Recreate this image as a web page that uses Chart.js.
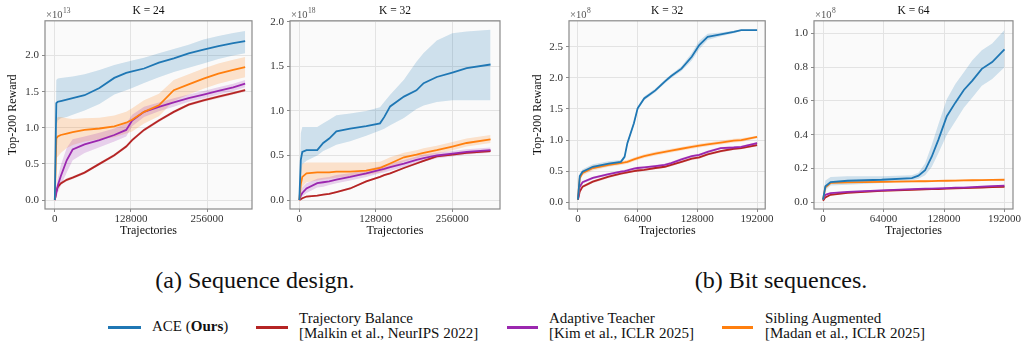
<!DOCTYPE html>
<html>
<head>
<meta charset="utf-8">
<script src="https://cdn.jsdelivr.net/npm/chart.js@4.4.1/dist/chart.umd.min.js"></script>
<style>
  html, body { margin:0; padding:0; background:#fff; }
  body { width:1025px; height:346px; position:relative; overflow:hidden; font-family:"Liberation Serif", "Times New Roman", Times, Tinos, "Nimbus Roman", "DejaVu Serif", "Noto Serif", serif; }
  .pane { position:absolute; top:0; height:240px; }
  .cap { position:absolute; font-size:24px; line-height:24px; color:#111; white-space:nowrap; transform:translateX(-50%); }
  .lgline { position:absolute; height:2.5px; }
  .lgtxt { position:absolute; font-size:15px; line-height:15px; color:#111; white-space:nowrap; }
</style>
</head>
<body>
<div class="pane" style="left:0;width:260px"><canvas id="c1" width="260" height="240"></canvas></div>
<div class="pane" style="left:255px;width:255px"><canvas id="c2" width="255" height="240"></canvas></div>
<div class="pane" style="left:525px;width:250px"><canvas id="c3" width="250" height="240"></canvas></div>
<div class="pane" style="left:775px;width:250px"><canvas id="c4" width="250" height="240"></canvas></div>

<div class="cap" style="left:255px;top:268px">(a) Sequence design.</div>
<div class="cap" style="left:781px;top:268px">(b) Bit sequences.</div>

<div class="lgline" style="left:108px;top:326px;width:33px;background:#1f77b4"></div>
<div class="lgtxt" style="left:152px;top:319px">ACE (<b>Ours</b>)</div>
<div class="lgline" style="left:256px;top:326px;width:32px;background:#b52424"></div>
<div class="lgtxt" style="left:299px;top:311px">Trajectory Balance<br>[Malkin et al., NeurIPS 2022]</div>
<div class="lgline" style="left:507px;top:326px;width:31px;background:#9b27af"></div>
<div class="lgtxt" style="left:549px;top:311px">Adaptive Teacher<br>[Kim et al., ICLR 2025]</div>
<div class="lgline" style="left:722px;top:326px;width:31px;background:#ff7f0e"></div>
<div class="lgtxt" style="left:765px;top:311px">Sibling Augmented<br>[Madan et al., ICLR 2025]</div>

<script>
// ---------- Data ----------
const seriesNames = ['ACE (Ours)', 'Trajectory Balance', 'Adaptive Teacher', 'Sibling Augmented'];

// Panel (a) K = 24, values x1e13
const seq24X = [0, 2500, 5000, 10000, 20000, 30000, 50000, 75000, 100000, 120000, 130000, 150000, 175000, 200000, 225000, 250000, 275000, 300000, 320000];
const seq24Ace   = [0, 1.34, 1.36, 1.37, 1.39, 1.41, 1.45, 1.55, 1.69, 1.76, 1.78, 1.82, 1.90, 1.96, 2.03, 2.08, 2.13, 2.17, 2.20];
const seq24AceHi = [0, 1.66, 1.68, 1.69, 1.70, 1.71, 1.74, 1.80, 1.87, 1.91, 1.93, 1.97, 2.03, 2.09, 2.15, 2.22, 2.27, 2.31, 2.34];
const seq24AceLo = [0, 1.02, 1.10, 1.13, 1.15, 1.18, 1.24, 1.33, 1.46, 1.52, 1.55, 1.62, 1.70, 1.77, 1.83, 1.89, 1.95, 2.00, 2.03];
const seq24Sa    = [0, 0.85, 0.88, 0.90, 0.92, 0.94, 0.97, 0.99, 1.02, 1.07, 1.11, 1.22, 1.31, 1.52, 1.60, 1.68, 1.75, 1.80, 1.84];
const seq24SaHi  = [0, 1.12, 1.15, 1.15, 1.13, 1.12, 1.13, 1.14, 1.17, 1.22, 1.27, 1.38, 1.47, 1.66, 1.74, 1.82, 1.89, 1.94, 1.98];
const seq24SaLo  = [0, 0.58, 0.60, 0.65, 0.72, 0.76, 0.81, 0.84, 0.87, 0.92, 0.95, 1.06, 1.16, 1.37, 1.46, 1.54, 1.61, 1.66, 1.70];
const seq24At    = [0, 0.10, 0.20, 0.33, 0.55, 0.70, 0.77, 0.83, 0.90, 0.97, 1.10, 1.22, 1.29, 1.35, 1.41, 1.46, 1.51, 1.56, 1.61];
const seq24AtHi  = [0, 0.16, 0.30, 0.48, 0.72, 0.84, 0.88, 0.93, 0.99, 1.06, 1.18, 1.29, 1.35, 1.41, 1.46, 1.51, 1.56, 1.61, 1.66];
const seq24AtLo  = [0, 0.04, 0.10, 0.20, 0.38, 0.55, 0.65, 0.73, 0.81, 0.88, 1.02, 1.15, 1.23, 1.29, 1.36, 1.41, 1.46, 1.51, 1.56];
const seq24Tb    = [0, 0.12, 0.18, 0.23, 0.28, 0.31, 0.38, 0.50, 0.62, 0.74, 0.83, 0.97, 1.10, 1.22, 1.32, 1.38, 1.43, 1.48, 1.52];
const seq24TbHi  = [0, 0.14, 0.20, 0.25, 0.30, 0.33, 0.40, 0.52, 0.64, 0.76, 0.85, 0.99, 1.12, 1.24, 1.34, 1.40, 1.45, 1.50, 1.54];
const seq24TbLo  = [0, 0.10, 0.16, 0.21, 0.26, 0.29, 0.36, 0.48, 0.60, 0.72, 0.81, 0.95, 1.08, 1.20, 1.30, 1.36, 1.41, 1.46, 1.50];

// Panel (a) K = 32, values x1e18
const seq32X = [0, 2500, 5000, 12000, 30000, 40000, 50000, 62000, 85000, 112000, 135000, 142000, 152000, 175000, 196000, 208000, 230000, 256000, 280000, 320000];
const seq32Ace   = [0, 0.45, 0.54, 0.56, 0.56, 0.64, 0.69, 0.77, 0.80, 0.83, 0.86, 0.93, 1.05, 1.16, 1.23, 1.31, 1.38, 1.43, 1.48, 1.52];
const seq32AceHi = [0, 0.75, 0.82, 0.82, 0.82, 0.86, 0.90, 0.95, 0.97, 1.00, 1.04, 1.10, 1.18, 1.35, 1.55, 1.65, 1.79, 1.87, 1.89, 1.91];
const seq32AceLo = [0, 0.25, 0.40, 0.44, 0.50, 0.55, 0.58, 0.62, 0.66, 0.72, 0.78, 0.80, 0.84, 0.92, 1.02, 1.06, 1.10, 1.12, 1.12, 1.12];
const seq32Sa    = [0, 0.18, 0.26, 0.30, 0.31, 0.31, 0.31, 0.32, 0.32, 0.33, 0.36, 0.38, 0.41, 0.48, 0.51, 0.53, 0.56, 0.60, 0.64, 0.68];
const seq32SaHi  = [0, 0.35, 0.41, 0.42, 0.42, 0.42, 0.42, 0.42, 0.42, 0.42, 0.43, 0.45, 0.48, 0.53, 0.56, 0.58, 0.61, 0.65, 0.69, 0.73];
const seq32SaLo  = [0, 0.05, 0.15, 0.20, 0.22, 0.23, 0.24, 0.25, 0.27, 0.28, 0.31, 0.33, 0.36, 0.43, 0.47, 0.49, 0.52, 0.56, 0.60, 0.64];
const seq32At    = [0, 0.05, 0.08, 0.13, 0.19, 0.20, 0.21, 0.23, 0.26, 0.30, 0.34, 0.35, 0.37, 0.41, 0.45, 0.47, 0.50, 0.52, 0.54, 0.56];
const seq32AtHi  = [0, 0.09, 0.14, 0.19, 0.24, 0.25, 0.26, 0.28, 0.30, 0.34, 0.38, 0.39, 0.41, 0.45, 0.49, 0.51, 0.53, 0.55, 0.57, 0.59];
const seq32AtLo  = [0, 0.02, 0.04, 0.08, 0.14, 0.15, 0.17, 0.19, 0.22, 0.26, 0.30, 0.31, 0.33, 0.37, 0.41, 0.43, 0.47, 0.49, 0.51, 0.53];
const seq32Tb    = [0, 0.01, 0.02, 0.04, 0.05, 0.06, 0.07, 0.09, 0.13, 0.21, 0.26, 0.28, 0.30, 0.36, 0.41, 0.44, 0.49, 0.51, 0.53, 0.55];
const seq32TbHi  = [0, 0.02, 0.03, 0.05, 0.06, 0.07, 0.08, 0.10, 0.14, 0.22, 0.27, 0.29, 0.31, 0.37, 0.42, 0.45, 0.50, 0.52, 0.54, 0.56];
const seq32TbLo  = [0, 0.00, 0.01, 0.03, 0.04, 0.05, 0.06, 0.08, 0.12, 0.20, 0.25, 0.27, 0.29, 0.35, 0.40, 0.43, 0.48, 0.50, 0.52, 0.54];

// Panel (b) K = 32, values x1e8
const bit32X = [0, 2000, 5000, 16000, 33000, 46000, 50000, 53000, 60000, 64000, 71000, 83000, 93000, 100000, 111000, 122000, 130000, 139000, 153000, 167000, 175000, 192000];
const bit32Ace   = [0.04, 0.42, 0.49, 0.57, 0.62, 0.65, 0.73, 0.95, 1.27, 1.51, 1.67, 1.80, 1.94, 2.03, 2.15, 2.34, 2.53, 2.66, 2.70, 2.74, 2.77, 2.77];
const bit32AceHi = [0.04, 0.46, 0.53, 0.61, 0.66, 0.68, 0.76, 0.98, 1.30, 1.54, 1.70, 1.83, 1.97, 2.06, 2.19, 2.40, 2.60, 2.71, 2.73, 2.76, 2.78, 2.78];
const bit32AceLo = [0.04, 0.38, 0.45, 0.53, 0.58, 0.62, 0.70, 0.92, 1.24, 1.48, 1.64, 1.77, 1.91, 2.00, 2.11, 2.28, 2.46, 2.61, 2.67, 2.72, 2.76, 2.76];
const bit32Sa    = [0.04, 0.39, 0.47, 0.55, 0.60, 0.63, 0.64, 0.65, 0.69, 0.71, 0.74, 0.78, 0.81, 0.83, 0.86, 0.89, 0.91, 0.93, 0.96, 0.99, 1.00, 1.05];
const bit32SaHi  = [0.04, 0.43, 0.51, 0.59, 0.63, 0.66, 0.67, 0.68, 0.72, 0.74, 0.77, 0.81, 0.84, 0.86, 0.89, 0.92, 0.94, 0.96, 0.99, 1.02, 1.03, 1.07];
const bit32SaLo  = [0.04, 0.35, 0.43, 0.51, 0.57, 0.60, 0.61, 0.62, 0.66, 0.68, 0.71, 0.75, 0.78, 0.80, 0.83, 0.86, 0.88, 0.90, 0.93, 0.96, 0.97, 1.03];
const bit32At    = [0.04, 0.25, 0.32, 0.39, 0.45, 0.49, 0.50, 0.51, 0.54, 0.55, 0.56, 0.58, 0.60, 0.63, 0.69, 0.74, 0.76, 0.81, 0.87, 0.88, 0.89, 0.95];
const bit32AtHi  = [0.04, 0.27, 0.34, 0.41, 0.47, 0.51, 0.52, 0.53, 0.56, 0.57, 0.58, 0.60, 0.62, 0.65, 0.71, 0.76, 0.78, 0.83, 0.89, 0.90, 0.91, 0.97];
const bit32AtLo  = [0.04, 0.23, 0.30, 0.37, 0.43, 0.47, 0.48, 0.49, 0.52, 0.53, 0.54, 0.56, 0.58, 0.61, 0.67, 0.72, 0.74, 0.79, 0.85, 0.86, 0.87, 0.93];
const bit32Tb    = [0.04, 0.17, 0.25, 0.33, 0.41, 0.46, 0.47, 0.48, 0.50, 0.51, 0.52, 0.55, 0.57, 0.60, 0.65, 0.70, 0.72, 0.77, 0.82, 0.86, 0.87, 0.92];
const bit32TbHi  = [0.04, 0.19, 0.27, 0.35, 0.43, 0.48, 0.49, 0.50, 0.52, 0.53, 0.54, 0.57, 0.59, 0.62, 0.67, 0.72, 0.74, 0.79, 0.84, 0.88, 0.89, 0.94];
const bit32TbLo  = [0.04, 0.15, 0.23, 0.31, 0.39, 0.44, 0.45, 0.46, 0.48, 0.49, 0.50, 0.53, 0.55, 0.58, 0.63, 0.68, 0.70, 0.75, 0.80, 0.84, 0.85, 0.90];

// Panel (b) K = 64, values x1e8
const bit64X = [0, 2500, 8000, 26000, 62000, 94000, 101000, 108000, 115000, 122000, 131000, 140000, 149000, 158000, 168000, 179000, 192000];
const bit64Ace   = [0.016, 0.095, 0.120, 0.128, 0.134, 0.144, 0.158, 0.19, 0.27, 0.37, 0.51, 0.59, 0.665, 0.72, 0.79, 0.83, 0.905];
const bit64AceHi = [0.016, 0.130, 0.150, 0.155, 0.155, 0.160, 0.175, 0.23, 0.34, 0.46, 0.61, 0.70, 0.77, 0.84, 0.90, 0.94, 1.02];
const bit64AceLo = [0.016, 0.070, 0.100, 0.105, 0.115, 0.130, 0.140, 0.16, 0.21, 0.29, 0.40, 0.48, 0.56, 0.62, 0.69, 0.73, 0.80];
const bit64Sa    = [0.016, 0.090, 0.115, 0.118, 0.122, 0.124, 0.125, 0.125, 0.126, 0.127, 0.128, 0.129, 0.130, 0.131, 0.132, 0.133, 0.134];
const bit64SaHi  = [0.016, 0.095, 0.120, 0.123, 0.127, 0.129, 0.130, 0.130, 0.131, 0.132, 0.133, 0.134, 0.135, 0.136, 0.137, 0.138, 0.139];
const bit64SaLo  = [0.016, 0.085, 0.110, 0.113, 0.117, 0.119, 0.120, 0.120, 0.121, 0.122, 0.123, 0.124, 0.125, 0.126, 0.127, 0.128, 0.129];
const bit64At    = [0.016, 0.045, 0.055, 0.062, 0.071, 0.078, 0.080, 0.081, 0.082, 0.083, 0.085, 0.087, 0.088, 0.090, 0.093, 0.096, 0.099];
const bit64AtHi  = [0.016, 0.049, 0.059, 0.066, 0.075, 0.082, 0.084, 0.085, 0.086, 0.087, 0.089, 0.091, 0.092, 0.094, 0.097, 0.100, 0.103];
const bit64AtLo  = [0.016, 0.041, 0.051, 0.058, 0.067, 0.074, 0.076, 0.077, 0.078, 0.079, 0.081, 0.083, 0.084, 0.086, 0.089, 0.092, 0.095];
const bit64Tb    = [0.010, 0.030, 0.045, 0.057, 0.068, 0.074, 0.076, 0.077, 0.078, 0.079, 0.081, 0.083, 0.084, 0.086, 0.088, 0.090, 0.092];
const bit64TbHi  = [0.010, 0.034, 0.049, 0.061, 0.072, 0.078, 0.080, 0.081, 0.082, 0.083, 0.085, 0.087, 0.088, 0.090, 0.092, 0.094, 0.096];
const bit64TbLo  = [0.010, 0.026, 0.041, 0.053, 0.064, 0.070, 0.072, 0.073, 0.074, 0.075, 0.077, 0.079, 0.080, 0.082, 0.084, 0.086, 0.088];

// Tick labels
const seqXTicks = [0, 128000, 256000];
const bitXTicks = [0, 64000, 128000, 192000];
const seq24YTicks = [0.0, 0.5, 1.0, 1.5, 2.0];
const seq32YTicks = [0.0, 0.5, 1.0, 1.5, 2.0];
const bit32YTicks = [0.0, 0.5, 1.0, 1.5, 2.0, 2.5];
const bit64YTicks = [0.0, 0.2, 0.4, 0.6, 0.8, 1.0];

// ---------- Styling ----------
const COLORS = {
  ace: ['#1f77b4', 'rgba(31,119,180,0.20)'],
  tb:  ['#b52424', 'rgba(181,36,36,0.20)'],
  at:  ['#9b27af', 'rgba(155,39,175,0.20)'],
  sa:  ['#ff7f0e', 'rgba(255,127,14,0.20)']
};
const FONT = '"Liberation Serif", "Times New Roman", Times, Tinos, "Nimbus Roman", "DejaVu Serif", "Noto Serif", serif';

const boxPlugin = {
  id: 'boxPlugin',
  beforeDraw(chart) {
    const a = chart.chartArea, ctx = chart.ctx;
    ctx.save();
    ctx.fillStyle = '#fafafa';
    ctx.fillRect(a.left, a.top, a.right - a.left, a.bottom - a.top);
    ctx.restore();
  },
  afterDraw(chart, args, opts) {
    const a = chart.chartArea, ctx = chart.ctx;
    ctx.save();
    ctx.strokeStyle = '#8a8a8a';
    ctx.lineWidth = 1.2;
    ctx.strokeRect(a.left, a.top, a.right - a.left, a.bottom - a.top);
    ctx.fillStyle = '#555';
    ctx.textBaseline = 'alphabetic';
    ctx.font = '10.5px ' + FONT;
    const base = '\u00d710';
    ctx.fillText(base, a.left + 1, a.top - 3);
    const w = ctx.measureText(base).width;
    ctx.font = '7.5px ' + FONT;
    ctx.fillText(opts.exp, a.left + 1 + w + 0.5, a.top - 8);
    ctx.restore();
  }
};

function pts(xs, ys) { return xs.map((x, i) => ({x: x, y: ys[i]})); }

function bandSets(xs, lo, hi, key) {
  return [
    { data: pts(xs, lo), borderWidth: 0, borderColor: 'transparent', pointRadius: 0, fill: false, order: 10 },
    { data: pts(xs, hi), borderWidth: 0, borderColor: 'transparent', pointRadius: 0, fill: '-1', backgroundColor: COLORS[key][1], order: 10 }
  ];
}
function lineSet(xs, ys, key, label, order) {
  return { label: label, data: pts(xs, ys), borderColor: COLORS[key][0], borderWidth: 1.8, pointRadius: 0, fill: false, order: order, tension: 0 };
}

function makeChart(id, cfg) {
  const s = cfg.series;
  const datasets = [
    ...bandSets(cfg.x, s.tb[1], s.tb[2], 'tb'),
    ...bandSets(cfg.x, s.at[1], s.at[2], 'at'),
    ...bandSets(cfg.x, s.sa[1], s.sa[2], 'sa'),
    ...bandSets(cfg.x, s.ace[1], s.ace[2], 'ace'),
    lineSet(cfg.x, s.tb[0], 'tb', seriesNames[1], 4),
    lineSet(cfg.x, s.at[0], 'at', seriesNames[2], 3),
    lineSet(cfg.x, s.sa[0], 'sa', seriesNames[3], 2),
    lineSet(cfg.x, s.ace[0], 'ace', seriesNames[0], 1)
  ];
  return new Chart(document.getElementById(id), {
    type: 'line',
    data: { datasets: datasets },
    plugins: [boxPlugin],
    options: {
      responsive: false,
      animation: false,
      events: [],
      layout: { padding: { left: 0, right: cfg.rightPad, top: 0, bottom: 0 } },
      plugins: {
        legend: { display: false },
        tooltip: { enabled: false },
        title: { display: true, text: cfg.title, fullSize: false, color: '#111',
                 font: { family: FONT, size: 11.5, weight: 'normal' }, padding: { top: 4, bottom: 3 } },
        boxPlugin: { exp: cfg.exp }
      },
      scales: {
        x: {
          type: 'linear', min: cfg.xMin, max: cfg.xMax,
          afterBuildTicks: sc => { sc.ticks = cfg.xTicks.map(v => ({ value: v })); },
          afterFit: sc => { sc.height = 31; },
          grid: { color: '#e3e3e3', lineWidth: 1, drawTicks: true, tickLength: 3, tickColor: '#8a8a8a' },
          border: { display: false },
          ticks: { color: '#333', font: { family: FONT, size: 11 }, padding: 1, maxRotation: 0, autoSkip: false,
                   callback: v => String(v) },
          title: { display: true, text: 'Trajectories', color: '#111', font: { family: FONT, size: 12 }, padding: { top: 0, bottom: 2 } }
        },
        y: {
          type: 'linear', min: cfg.yMin, max: cfg.yMax,
          afterBuildTicks: sc => { sc.ticks = cfg.yTicks.map(v => ({ value: v })); },
          afterFit: sc => { sc.width = cfg.yWidth; },
          grid: { color: '#e3e3e3', lineWidth: 1, drawTicks: true, tickLength: 3, tickColor: '#8a8a8a' },
          border: { display: false },
          ticks: { color: '#333', font: { family: FONT, size: 11 }, padding: 3, callback: v => v.toFixed(1) },
          title: { display: cfg.yTitle, text: 'Top-200 Reward', color: '#111', font: { family: FONT, size: 12 }, padding: { top: 6, bottom: 0 } }
        }
      }
    }
  });
}

makeChart('c1', {
  title: 'K = 24', exp: '13', x: seq24X, xTicks: seqXTicks, yTicks: seq24YTicks,
  xMin: -16500, xMax: 331500, yMin: -0.124, yMax: 2.48, yWidth: 45, rightPad: 8, yTitle: true,
  series: { ace: [seq24Ace, seq24AceLo, seq24AceHi], tb: [seq24Tb, seq24TbLo, seq24TbHi],
            at: [seq24At, seq24AtLo, seq24AtHi], sa: [seq24Sa, seq24SaLo, seq24SaHi] }
});
makeChart('c2', {
  title: 'K = 32', exp: '18', x: seq32X, xTicks: seqXTicks, yTicks: seq32YTicks,
  xMin: -15600, xMax: 335800, yMin: -0.1, yMax: 2.01, yWidth: 35, rightPad: 10, yTitle: false,
  series: { ace: [seq32Ace, seq32AceLo, seq32AceHi], tb: [seq32Tb, seq32TbLo, seq32TbHi],
            at: [seq32At, seq32AtLo, seq32AtHi], sa: [seq32Sa, seq32SaLo, seq32SaHi] }
});
makeChart('c3', {
  title: 'K = 32', exp: '8', x: bit32X, xTicks: bitXTicks, yTicks: bit32YTicks,
  xMin: -9550, xMax: 200700, yMin: -0.11, yMax: 2.92, yWidth: 44, rightPad: 7, yTitle: true,
  series: { ace: [bit32Ace, bit32AceLo, bit32AceHi], tb: [bit32Tb, bit32TbLo, bit32TbHi],
            at: [bit32At, bit32AtLo, bit32AtHi], sa: [bit32Sa, bit32SaLo, bit32SaHi] }
});
makeChart('c4', {
  title: 'K = 64', exp: '8', x: bit64X, xTicks: bitXTicks, yTicks: bit64YTicks,
  xMin: -9550, xMax: 201000, yMin: -0.039, yMax: 1.074, yWidth: 39, rightPad: 12, yTitle: false,
  series: { ace: [bit64Ace, bit64AceLo, bit64AceHi], tb: [bit64Tb, bit64TbLo, bit64TbHi],
            at: [bit64At, bit64AtLo, bit64AtHi], sa: [bit64Sa, bit64SaLo, bit64SaHi] }
});
</script>
</body>
</html>
